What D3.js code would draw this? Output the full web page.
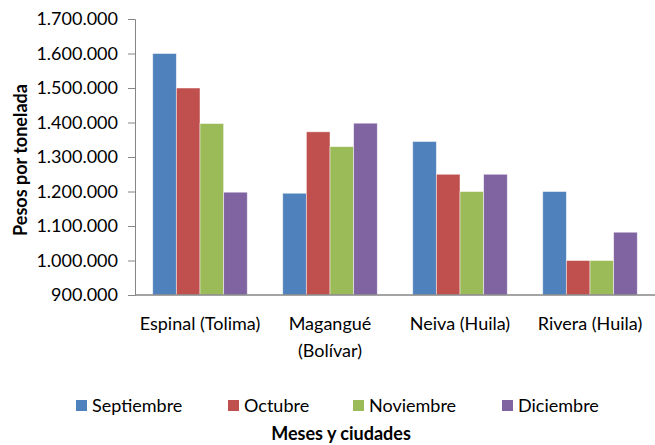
<!DOCTYPE html>
<html>
<head>
<meta charset="utf-8">
<script src="https://cdn.jsdelivr.net/npm/d3@7"></script>
<style>
  body { margin: 0; background: #fff; }
  svg { display: block; font-family: Lato, "Liberation Sans", sans-serif; }
</style>
</head>
<body>
<div id="chart"></div>
<script>
  // data
  const cities = [["Espinal (Tolima)"], ["Magangué", "(Bolívar)"], ["Neiva (Huila)"], ["Rivera (Huila)"]];
  const months = ["Septiembre", "Octubre", "Noviembre", "Diciembre"];
  const colors = ["#4F81BD", "#C0504D", "#9BBB59", "#8064A2"];
  const septiembre = [1600000, 1195000, 1345000, 1200000];
  const octubre = [1500000, 1373000, 1250000, 1000000];
  const noviembre = [1397000, 1330000, 1200000, 1000000];
  const diciembre = [1198000, 1398000, 1250000, 1082000];
  const yTicks = [900000, 1000000, 1100000, 1200000, 1300000, 1400000, 1500000, 1600000, 1700000];
  const legendX = [76, 228, 353, 502];

  const series = [septiembre, octubre, noviembre, diciembre];

  const W = 655, H = 445;
  const plot = {left: 135, right: 655, top: 19, bottom: 295};

  const svg = d3.select("#chart").append("svg")
    .attr("width", W)
    .attr("height", H);

  const x = d3.scaleBand()
    .domain(d3.range(cities.length))
    .range([plot.left, plot.right]);

  // Excel gap width 150%: band = 4 bars + 1.5 bar
  const barW = x.bandwidth() / 5.5;

  const y = d3.scaleLinear()
    .domain([900000, 1700000])
    .range([plot.bottom, plot.top]);

  const fmt = d3.formatLocale({decimal: ",", thousands: ".", grouping: [3], currency: ["$", ""]}).format(",d");

  // bars
  series.forEach(function (vals, si) {
    svg.append("g").selectAll("rect")
      .data(vals)
      .join("rect")
      .attr("x", (d, i) => x(i) + barW * 0.75 + si * barW)
      .attr("y", d => y(d))
      .attr("width", barW)
      .attr("height", d => plot.bottom - y(d))
      .attr("fill", colors[si])
      .attr("stroke", "rgba(255,255,255,0.6)")
      .attr("stroke-width", 0.8);
  });

  // y axis
  const yAxis = svg.append("g")
    .attr("transform", "translate(" + plot.left + ",0)")
    .call(d3.axisLeft(y).tickValues(yTicks).tickSize(7).tickPadding(10).tickFormat(fmt));
  yAxis.select(".domain").attr("stroke", "#868686");
  yAxis.selectAll(".tick line").attr("stroke", "#868686");
  yAxis.selectAll("text")
    .attr("fill", "#000")
    .style("font-size", "18px")
    .style("font-family", "Lato, sans-serif");

  // x axis line
  svg.append("line")
    .attr("x1", plot.left).attr("x2", plot.right)
    .attr("y1", plot.bottom).attr("y2", plot.bottom)
    .attr("stroke", "#868686")
    .attr("stroke-width", 1.5);

  // category labels
  const cat = svg.append("g").selectAll("text")
    .data(cities)
    .join("text")
    .attr("x", (d, i) => x(i) + x.bandwidth() / 2)
    .attr("y", 330)
    .attr("text-anchor", "middle")
    .style("font-size", "18px");
  cat.selectAll("tspan")
    .data(d => d)
    .join("tspan")
    .attr("x", function () { return this.parentNode.getAttribute("x"); })
    .attr("dy", (d, i) => i === 0 ? 0 : 27)
    .text(d => d);

  // y title
  svg.append("text")
    .attr("transform", "translate(27,160) rotate(-90)")
    .attr("text-anchor", "middle")
    .style("font-size", "18px")
    .style("font-weight", "bold")
    .text("Pesos por tonelada");

  // legend
  const leg = svg.append("g").selectAll("g")
    .data(months)
    .join("g")
    .attr("transform", (d, i) => "translate(" + legendX[i] + ",400)");
  leg.append("rect")
    .attr("width", 11).attr("height", 11)
    .attr("fill", (d, i) => colors[i]);
  leg.append("text")
    .attr("x", 16)
    .attr("y", 12)
    .style("font-size", "18px")
    .text(d => d);

  // x title
  svg.append("text")
    .attr("x", 341)
    .attr("y", 440)
    .attr("text-anchor", "middle")
    .style("font-size", "18px")
    .style("font-weight", "bold")
    .text("Meses y ciudades");
</script>
</body>
</html>
